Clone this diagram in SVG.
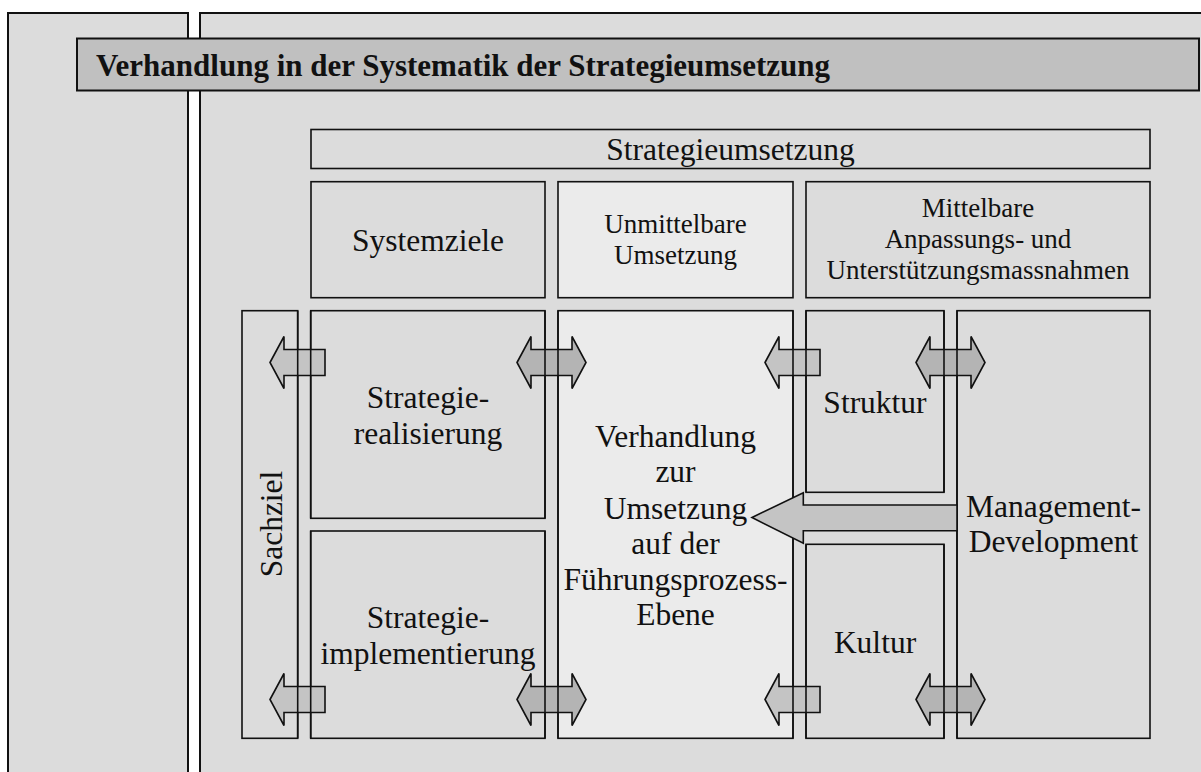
<svg xmlns="http://www.w3.org/2000/svg" width="1201" height="772" viewBox="0 0 1201 772">
<style>
.panel{fill:#dcdcdc;stroke:#111;stroke-width:2}
.box{fill:#dcdcdc;stroke:#111;stroke-width:1.6}
.light{fill:#ebebeb;stroke:#111;stroke-width:1.6}
.ol{fill:none;stroke:#111;stroke-width:1.6}
.t{font-family:"Liberation Serif","Times New Roman",serif;fill:#111;text-anchor:middle}
.big{font-size:31.5px}
.sm{font-size:27px}
.la{fill:#c4c4c4;stroke:#111;stroke-width:1.6;stroke-linejoin:miter}
.da{fill:#b4b4b4;stroke:#111;stroke-width:1.6;stroke-linejoin:miter}
</style>
<defs>
<path id="larrow" d="M0,0 L14,-26 L14,-13 L55,-13 L55,13 L14,13 L14,26 Z"/>
<path id="darrow" d="M-34.5,0 L-20.5,-26 L-20.5,-13 L20.5,-13 L20.5,-26 L34.5,0 L20.5,26 L20.5,13 L-20.5,13 L-20.5,26 Z"/>
</defs>
<rect x="0" y="0" width="1201" height="772" fill="#ffffff"/>
<g id="panels">
<rect class="panel" x="8" y="13" width="180" height="780"/>
<rect class="panel" x="200" y="13" width="1020" height="780"/>
</g>
<g id="title">
<rect x="77" y="38.5" width="1122" height="52" fill="#c0c0c0" stroke="#111" stroke-width="2"/>
<text x="96" y="76" font-family="Liberation Serif,'Times New Roman',serif" font-weight="bold" font-size="31" fill="#111">Verhandlung in der Systematik der Strategieumsetzung</text>
</g>
<g id="strategieumsetzung">
<rect class="box" x="311" y="129.5" width="839" height="39"/>
<text class="t big" x="730.5" y="160">Strategieumsetzung</text>
</g>
<g id="systemziele">
<rect class="box" x="311" y="181.7" width="234" height="116"/>
<text class="t big" x="428" y="251">Systemziele</text>
</g>
<g id="unmittelbare">
<rect class="light" x="558" y="181.7" width="235" height="116"/>
<text class="t sm" x="675.5" y="233">Unmittelbare</text>
<text class="t sm" x="675.5" y="264">Umsetzung</text>
</g>
<g id="mittelbare">
<rect class="box" x="806" y="181.7" width="344" height="116"/>
<text class="t sm" x="978" y="217">Mittelbare</text>
<text class="t sm" x="978" y="248">Anpassungs- und</text>
<text class="t sm" x="978" y="279">Unterstützungsmassnahmen</text>
</g>
<g id="sachziel">
<rect class="box" x="242" y="310.7" width="55.7" height="427.6"/>
<text class="t big" transform="translate(281.5,524) rotate(-90)" x="0" y="0">Sachziel</text>
</g>
<g id="strategierealisierung">
<rect class="box" x="310.7" y="310.7" width="234.3" height="207.6"/>
<text class="t big" x="428" y="408">Strategie-</text>
<text class="t big" x="428" y="444">realisierung</text>
</g>
<g id="strategieimplementierung">
<rect class="box" x="310.7" y="531" width="234.3" height="207.3"/>
<text class="t big" x="428" y="627.5">Strategie-</text>
<text class="t big" x="428" y="663.5">implementierung</text>
</g>
<g id="verhandlung">
<rect class="light" x="558" y="310.7" width="235" height="427.6"/>
<text class="t big" x="675.5" y="447">Verhandlung</text>
<text class="t big" x="675.5" y="482">zur</text>
<text class="t big" x="675.5" y="519">Umsetzung</text>
<text class="t big" x="675.5" y="554">auf der</text>
<text class="t big" x="675.5" y="590">Führungsprozess-</text>
<text class="t big" x="675.5" y="625">Ebene</text>
</g>
<g id="struktur">
<rect class="box" x="806" y="310.7" width="138" height="181.6"/>
<text class="t big" x="875" y="412.5">Struktur</text>
</g>
<g id="kultur">
<rect class="box" x="806" y="544.3" width="138" height="194"/>
<text class="t big" x="875" y="652.5">Kultur</text>
</g>
<g id="management">
<rect class="box" x="957" y="310.7" width="193" height="427.6"/>
<text class="t big" x="1053.5" y="516.5">Management-</text>
<text class="t big" x="1053.5" y="551.5">Development</text>
</g>
<g id="connectors">
<use href="#larrow" class="la" x="270" y="362.5"/>
<use href="#larrow" class="la" x="270" y="699.5"/>
<use href="#larrow" class="la" x="765" y="362.5"/>
<use href="#larrow" class="la" x="765" y="699.5"/>
<use href="#darrow" class="da" x="551.5" y="362.5"/>
<use href="#darrow" class="da" x="551.5" y="699.5"/>
<use href="#darrow" class="da" x="950.5" y="362.5"/>
<use href="#darrow" class="da" x="950.5" y="699.5"/>
<g class="ol">
<line x1="297.7" y1="310.7" x2="297.7" y2="738.3"/>
<line x1="310.7" y1="310.7" x2="310.7" y2="518.3"/>
<line x1="310.7" y1="531" x2="310.7" y2="738.3"/>
<line x1="545" y1="310.7" x2="545" y2="518.3"/>
<line x1="545" y1="531" x2="545" y2="738.3"/>
<line x1="558" y1="310.7" x2="558" y2="738.3"/>
<line x1="793" y1="310.7" x2="793" y2="738.3"/>
<line x1="806" y1="310.7" x2="806" y2="492.3"/>
<line x1="806" y1="544.3" x2="806" y2="738.3"/>
<line x1="944" y1="310.7" x2="944" y2="492.3"/>
<line x1="944" y1="544.3" x2="944" y2="738.3"/>
<line x1="957" y1="310.7" x2="957" y2="738.3"/>
</g>
<path class="la" d="M752,517.5 L803.3,492.7 L803.3,505 L957,505 L957,530.7 L803.3,530.7 L803.3,543.3 Z"/>
</g>
</svg>
